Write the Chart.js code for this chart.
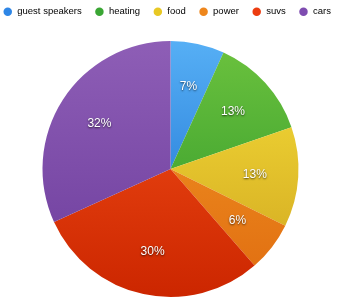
<!DOCTYPE html>
<html>
<head>
<meta charset="utf-8">
<script src="https://cdn.jsdelivr.net/npm/chart.js@4"></script>
<style>
  html, body { margin: 0; padding: 0; background: #fff; }
  #wrap { width: 341px; height: 308px; }
</style>
</head>
<body>
<div id="wrap"><canvas id="c"></canvas></div>
<script>
// chart data
var categories = ['guest speakers', 'heating', 'food', 'power', 'suvs', 'cars']
var values = [6.8, 12.9, 12.6, 6.3, 29.6, 31.8]
// light / dark ends of each slice's shading, and the legend dot colours
var lightColors = ['#56aff5', '#6cc23e', '#f7e03a', '#f39a26', '#f5521a', '#8e5eb6']
var darkColors = ['#1468cc', '#2a9428', '#cfa41e', '#e06c10', '#cc2600', '#6c3c9c']
var dotColors = ['#2e86e6', '#3aa634', '#e8c824', '#ee861c', '#ec3c10', '#7e4cb0']

function sliceFill(context) {
	var chart = context.chart
	var area = chart.chartArea
	var i = context.dataIndex
	if (!area) return lightColors[i]
	var g = chart.ctx.createLinearGradient(0, area.top, 0, area.bottom)
	g.addColorStop(0, lightColors[i])
	g.addColorStop(1, darkColors[i])
	return g
}

// give the legend a fixed height so the pie starts where it should
var legendFit = {
	id: 'legendFit',
	beforeLayout: function (chart) {
		var lg = chart.legend
		if (!lg || lg._patched) return
		var fit = lg.fit
		lg.fit = function () {
			fit.call(this)
			this.height = 47
		}
		lg._patched = true
	}
}

// draws the percent labels inside the slices
var percentLabels = {
	id: 'percentLabels',
	afterDatasetsDraw: function (chart) {
		var ctx = chart.ctx
		var meta = chart.getDatasetMeta(0)
		var data = chart.data.datasets[0].data
		var total = data.reduce(function (a, b) { return a + b }, 0)
		ctx.save()
		ctx.font = '12px "Liberation Sans", Arial, sans-serif'
		ctx.textAlign = 'center'
		ctx.textBaseline = 'middle'
		ctx.fillStyle = '#ffffff'
		ctx.shadowColor = 'rgba(0,0,0,0.7)'
		ctx.shadowBlur = 2
		ctx.shadowOffsetX = 0
		ctx.shadowOffsetY = 1
		meta.data.forEach(function (arc, i) {
			var p = arc.getProps(['x', 'y', 'startAngle', 'endAngle', 'outerRadius'], true)
			var mid = (p.startAngle + p.endAngle) / 2
			var r = p.outerRadius * 0.66
			var txt = Math.round(data[i] / total * 100) + '%'
			ctx.fillText(txt, p.x + Math.cos(mid) * r, p.y + Math.sin(mid) * r)
		})
		ctx.restore()
	}
}

var chart = new Chart(document.getElementById('c'), {
	type: 'pie',
	data: {
		labels: categories,
		datasets: [{
			data: values,
			backgroundColor: sliceFill,
			borderWidth: 0
		}]
	},
	options: {
		responsive: true,
		maintainAspectRatio: false,
		animation: false,
		layout: { padding: { top: -6, bottom: 11, left: -10, right: -10 } },
		plugins: {
			tooltip: { enabled: false },
			legend: {
				position: 'top',
				align: 'start',
				labels: {
					usePointStyle: true,
					pointStyle: 'circle',
					boxWidth: 10.5,
					boxHeight: 6,
					padding: 13,
					color: '#444',
					font: { family: '"Liberation Sans", Arial, sans-serif', size: 9.5 },
					generateLabels: function (chart) {
						return categories.map(function (c, i) {
							return {
								text: c,
								fillStyle: dotColors[i],
								strokeStyle: dotColors[i],
								lineWidth: 0,
								pointStyle: 'circle',
								index: i
							}
						})
					}
				}
			}
		}
	},
	plugins: [legendFit, percentLabels]
})
</script>
</body>
</html>
